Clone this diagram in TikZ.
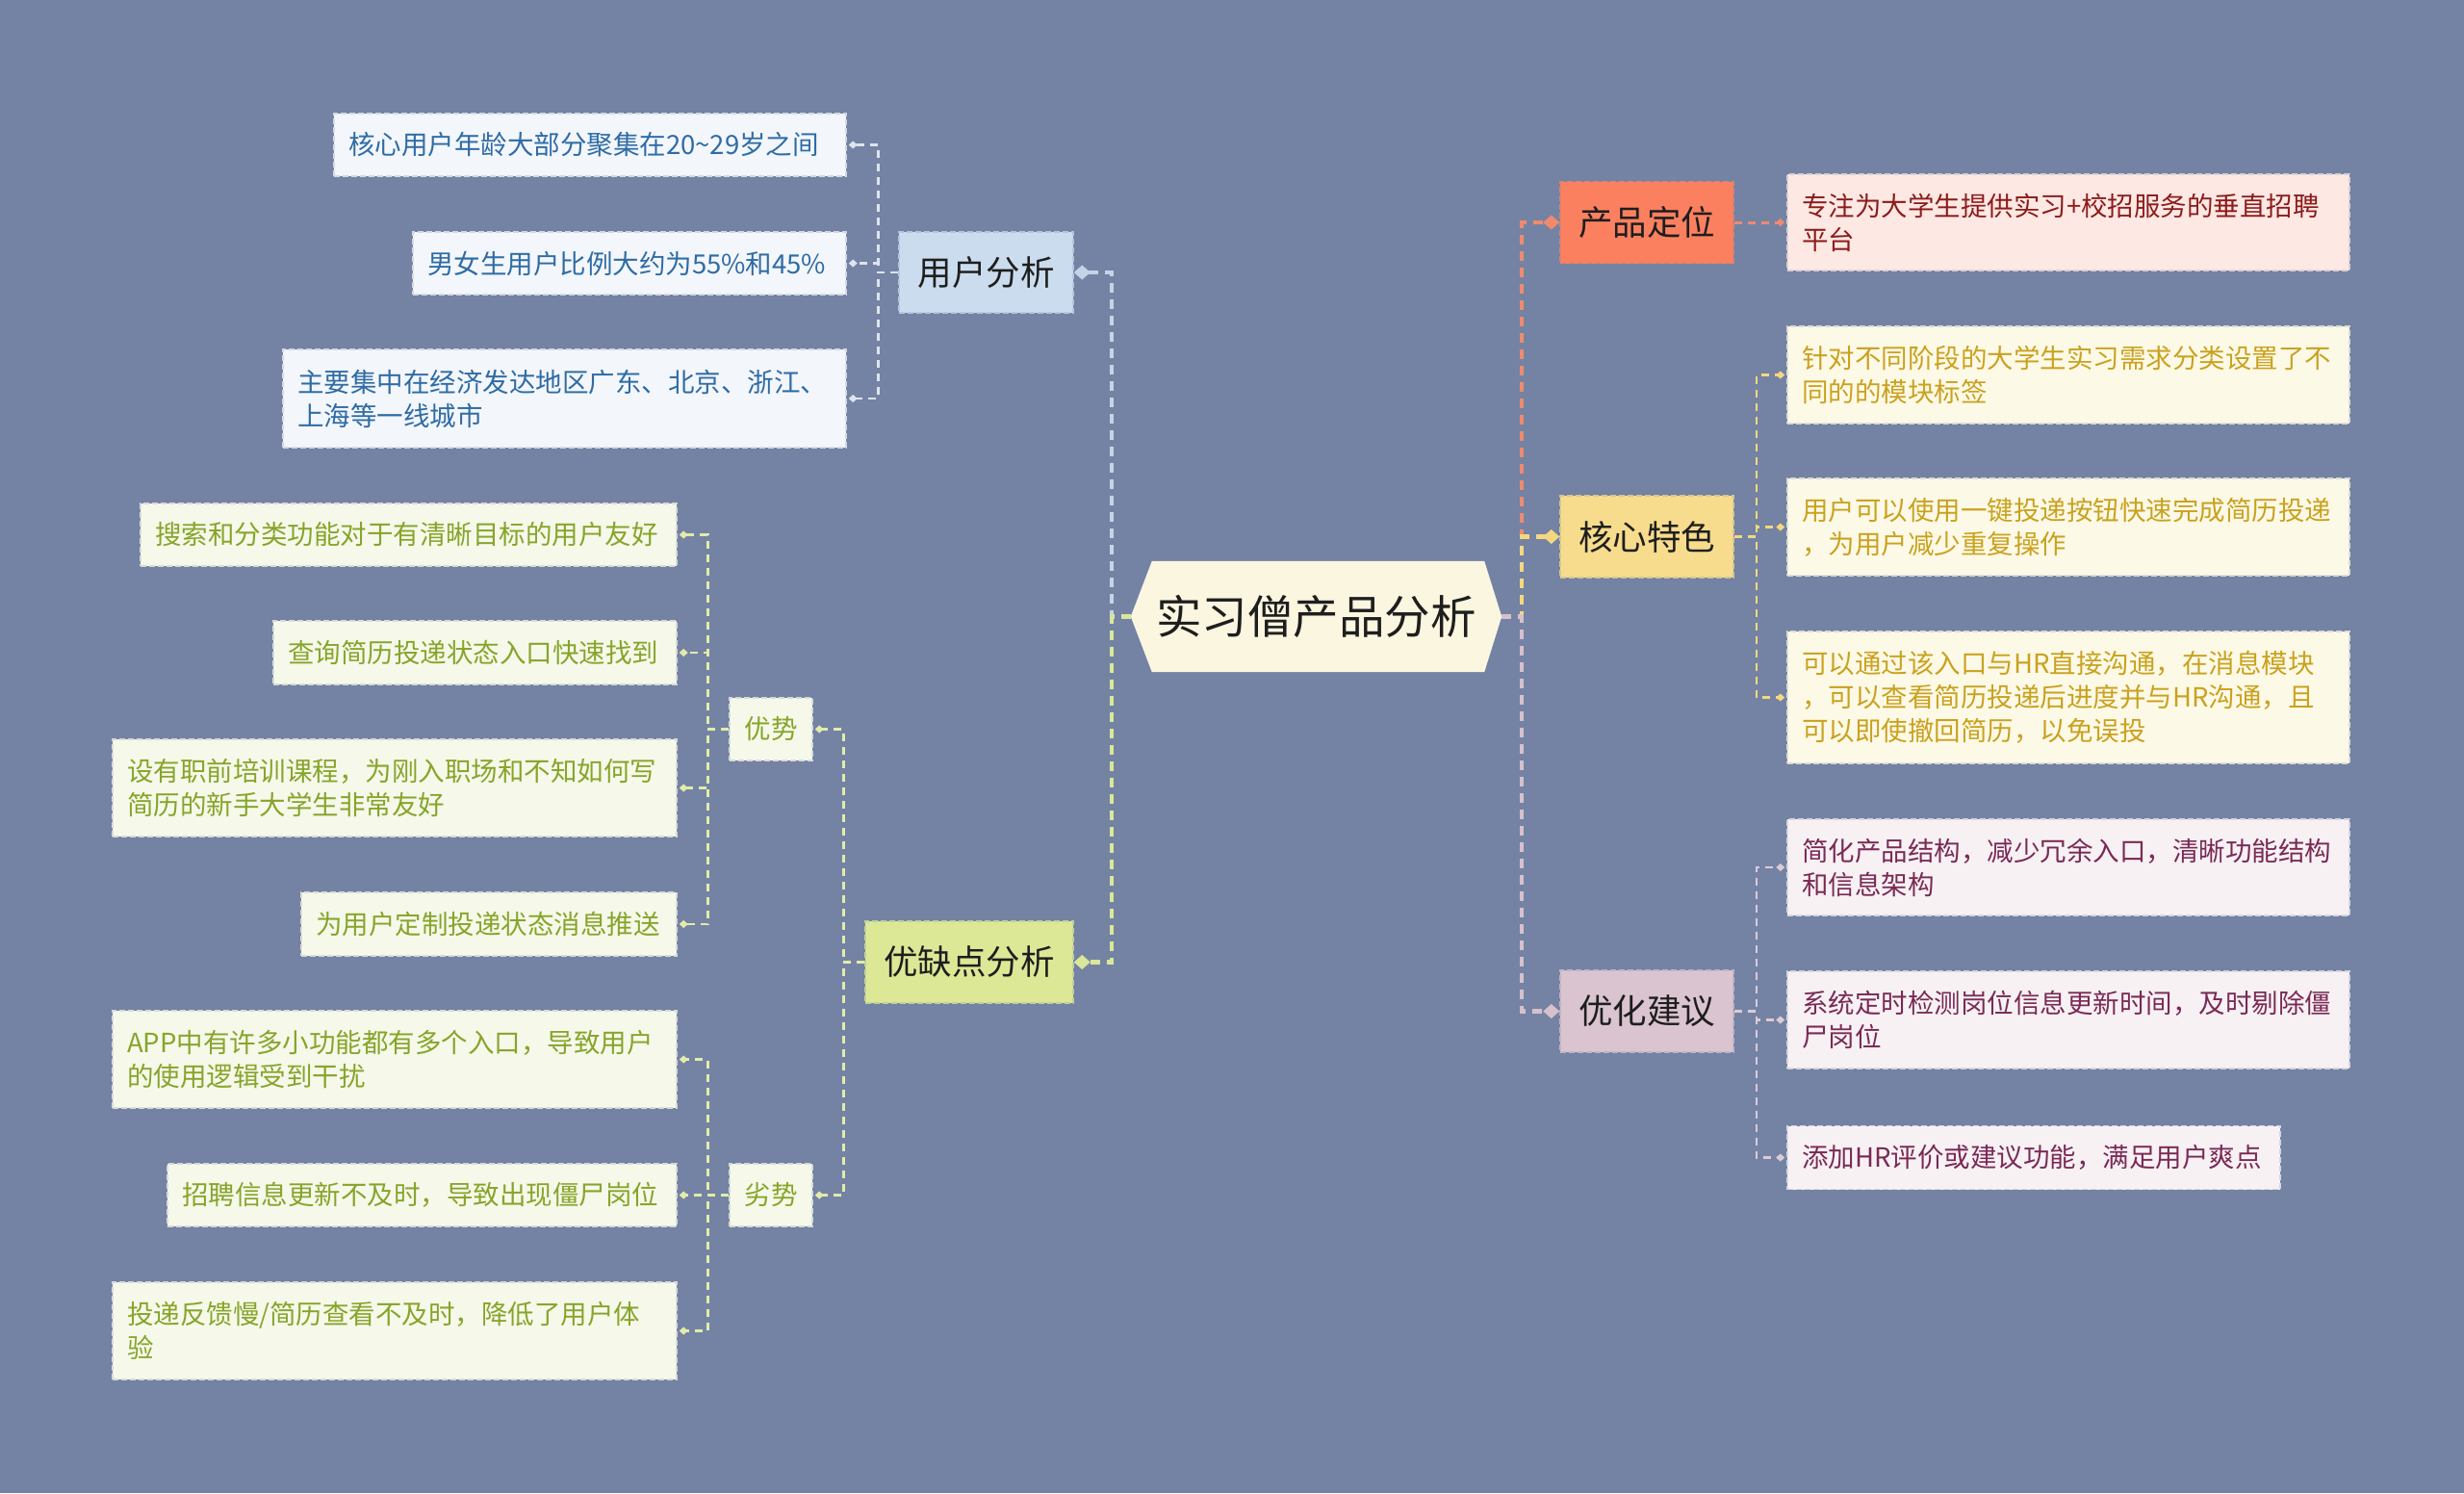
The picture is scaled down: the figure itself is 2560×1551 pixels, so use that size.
\documentclass[tikz,border=0pt]{standalone}
\usepackage{fontspec}
\setmainfont{Noto Sans CJK SC}
\usetikzlibrary{arrows.meta,backgrounds}
\definecolor{bgc}{HTML}{7483A3}
\definecolor{rootfill}{HTML}{FBF6E0}
\definecolor{maintext}{HTML}{1E1E1E}
% user analysis
\definecolor{uaF}{HTML}{CBDCEE}
\definecolor{uaL}{HTML}{F3F6FA}
\definecolor{uaT}{HTML}{2F6CA5}
\definecolor{uaC}{HTML}{C4D4E8}
\definecolor{uaLC}{HTML}{DDE4EE}
% pros / cons
\definecolor{yqF}{HTML}{DCE896}
\definecolor{yqL}{HTML}{F6F8EA}
\definecolor{yqT}{HTML}{86A52A}
\definecolor{yqC}{HTML}{D9E79A}
\definecolor{yqLC}{HTML}{E2EBAB}
% positioning
\definecolor{cpF}{HTML}{FB8060}
\definecolor{cpL}{HTML}{FDE8E3}
\definecolor{cpT}{HTML}{8C1C1C}
\definecolor{cpC}{HTML}{F08A6E}
% core features
\definecolor{hxF}{HTML}{F6DC8C}
\definecolor{hxL}{HTML}{FDF9E7}
\definecolor{hxT}{HTML}{C9A21F}
\definecolor{hxC}{HTML}{F5D77F}
% suggestions
\definecolor{yhF}{HTML}{D9C4D0}
\definecolor{yhL}{HTML}{F7F1F4}
\definecolor{yhT}{HTML}{7A2A55}
\definecolor{yhC}{HTML}{D6C0CC}
\definecolor{yhLC}{HTML}{DCCBD5}
\tikzset{
  nbox/.style n args={2}{fill=#1, draw=#1!75!bgc, text=#2, inner sep=0pt,
     line width=1.5pt, dash pattern=on 6pt off 3pt},
  mainbox/.style={minimum width=180pt, minimum height=85pt, align=center,
     font=\fontsize{35.5}{42}\selectfont},
  leafbox/.style={inner xsep=15pt, inner ysep=0pt, align=left,
     font=\fontsize{27.5}{35}\selectfont},
  subbox/.style={minimum width=86pt, minimum height=65pt, align=center,
     font=\fontsize{27.5}{35}\selectfont},
  mconn/.style={line width=4.5pt, dash pattern=on 10pt off 7pt, draw=#1,
     -{Diamond[length=17pt,width=15pt,fill=#1]}},
  sconn/.style={line width=3pt, dash pattern=on 8pt off 6pt, draw=#1,
     -{Diamond[length=9pt,width=8pt,fill=#1]}},
  lconn/.style={line width=2.5pt, dash pattern=on 8pt off 6pt, draw=#1,
     -{Diamond[length=9pt,width=8pt,fill=#1]}},
}
\begin{document}
\begin{tikzpicture}[x=1pt,y=-1pt]
\useasboundingbox (0,0) rectangle (2560,1551);

% root
\node[minimum width=385pt, minimum height=115pt, inner sep=0pt, text=maintext,
      font=\fontsize{47.5}{55}\selectfont] (root) at (1367.5,640.5) {实习僧产品分析};

% main branches
\node[nbox={uaF}{maintext}, mainbox, minimum width=181pt, minimum height=84pt] (ua) at (1024.5,283) {用户分析};
\node[nbox={yqF}{maintext}, mainbox, minimum width=216pt] (yq) at (1007,999.5) {优缺点分析};
\node[nbox={cpF}{maintext}, mainbox] (cp) at (1711,231) {产品定位};
\node[nbox={hxF}{maintext}, mainbox] (hx) at (1711,557.5) {核心特色};
\node[nbox={yhF}{maintext}, mainbox] (yh) at (1711,1050.5) {优化建议};

% sub branches
\node[nbox={yqL}{yqT}, subbox] (ys) at (801,757.5) {优势};
\node[nbox={yqL}{yqT}, subbox] (ls) at (801,1241.5) {劣势};

% user analysis leaves
\node[nbox={uaL}{uaT}, leafbox, text width=502pt, minimum height=65pt] (ua1) at (613,150.5) {核心用户年龄大部分聚集在20\textasciitilde29岁之间};
\node[nbox={uaL}{uaT}, leafbox, text width=420pt, minimum height=65pt] (ua2) at (654,273.5) {男女生用户比例大约为55\%和45\%};
\node[nbox={uaL}{uaT}, leafbox, text width=555pt, minimum height=102pt] (ua3) at (586.5,414) {主要集中在经济发达地区广东、北京、浙江、\\上海等一线城市};

% pros leaves
\node[nbox={yqL}{yqT}, leafbox, text width=527pt, minimum height=65pt] (ys1) at (424.5,555.5) {搜索和分类功能对于有清晰目标的用户友好};
\node[nbox={yqL}{yqT}, leafbox, text width=389pt, minimum height=66pt] (ys2) at (493.5,678) {查询简历投递状态入口快速找到};
\node[nbox={yqL}{yqT}, leafbox, text width=556pt, minimum height=101pt] (ys3) at (410,818.5) {设有职前培训课程，为刚入职场和不知如何写\\简历的新手大学生非常友好};
\node[nbox={yqL}{yqT}, leafbox, text width=360pt, minimum height=66pt] (ys4) at (508,960) {为用户定制投递状态消息推送};

% cons leaves
\node[nbox={yqL}{yqT}, leafbox, text width=556pt, minimum height=101pt] (ls1) at (410,1100.5) {APP中有许多小功能都有多个入口，导致用户\\的使用逻辑受到干扰};
\node[nbox={yqL}{yqT}, leafbox, text width=499pt, minimum height=65pt] (ls2) at (438.5,1241.5) {招聘信息更新不及时，导致出现僵尸岗位};
\node[nbox={yqL}{yqT}, leafbox, text width=556pt, minimum height=101pt] (ls3) at (410,1382.5) {投递反馈慢/简历查看不及时，降低了用户体\\验};

% right leaves
\node[nbox={cpL}{cpT}, leafbox, text width=554pt, minimum height=100pt] (cp1) at (2149,231) {专注为大学生提供实习+校招服务的垂直招聘\\平台};
\node[nbox={hxL}{hxT}, leafbox, text width=554pt, minimum height=101pt] (hx1) at (2149,389.5) {针对不同阶段的大学生实习需求分类设置了不\\同的的模块标签};
\node[nbox={hxL}{hxT}, leafbox, text width=554pt, minimum height=101pt] (hx2) at (2149,547.5) {用户可以使用一键投递按钮快速完成简历投递\\，为用户减少重复操作};
\node[nbox={hxL}{hxT}, leafbox, text width=554pt, minimum height=137pt] (hx3) at (2149,724.5) {可以通过该入口与HR直接沟通，在消息模块\\，可以查看简历投递后进度并与HR沟通，且\\可以即使撤回简历，以免误投};
\node[nbox={yhL}{yhT}, leafbox, text width=554pt, minimum height=100pt] (yh1) at (2149,901) {简化产品结构，减少冗余入口，清晰功能结构\\和信息架构};
\node[nbox={yhL}{yhT}, leafbox, text width=554pt, minimum height=101pt] (yh2) at (2149,1059.5) {系统定时检测岗位信息更新时间，及时剔除僵\\尸岗位};
\node[nbox={yhL}{yhT}, leafbox, text width=482pt, minimum height=66pt] (yh3) at (2113,1202.5) {添加HR评价或建议功能，满足用户爽点};

% background and root hexagon
\begin{scope}[on background layer]
  \fill[bgc] (0,0) rectangle (2560,1551);
  \fill[rootfill] (root.west) -- ([xshift=22pt]root.north west) -- ([xshift=-18pt]root.north east)
     -- (root.east) -- ([xshift=-18pt]root.south east) -- ([xshift=22pt]root.south west) -- cycle;
\end{scope}

% main connectors left
\draw[mconn=uaC] (root.west) -- ++(-20,0) |- (ua.east);
\draw[mconn=yqC] (root.west) -- ++(-20,0) |- (yq.east);
% main connectors right
\draw[mconn=cpC] (root.east) -- ++(21,0) |- (cp.west);
\draw[mconn=hxC] (root.east) -- ++(21,0) |- (hx.west);
\draw[mconn=yhC] (root.east) -- ++(21,0) |- (yh.west);

% user analysis leaves
\foreach \c in {ua1,ua2,ua3}
  \draw[lconn=uaLC] (ua.west) -- ++(-21,0) |- ([xshift=2pt]\c.east);

% pros/cons
\draw[sconn=yqLC] (yq.west) -- ++(-22,0) |- ([xshift=2pt]ys.east);
\draw[sconn=yqLC] (yq.west) -- ++(-22,0) |- ([xshift=2pt]ls.east);
\foreach \c in {ys1,ys2,ys3,ys4}
  \draw[lconn=yqLC] (ys.west) -- ++(-22,0) |- ([xshift=2pt]\c.east);
\foreach \c in {ls1,ls2,ls3}
  \draw[lconn=yqLC] (ls.west) -- ++(-22,0) |- ([xshift=2pt]\c.east);

% right leaves
\draw[sconn=cpC] (cp.east) -- ([xshift=-2pt]cp1.west);
\foreach \c in {hx1,hx2,hx3}
  \draw[lconn=hxC] (hx.east) -- ++(23,0) |- ([xshift=-2pt]\c.west);
\foreach \c in {yh1,yh2,yh3}
  \draw[lconn=yhLC] (yh.east) -- ++(23,0) |- ([xshift=-2pt]\c.west);
\end{tikzpicture}
\end{document}
